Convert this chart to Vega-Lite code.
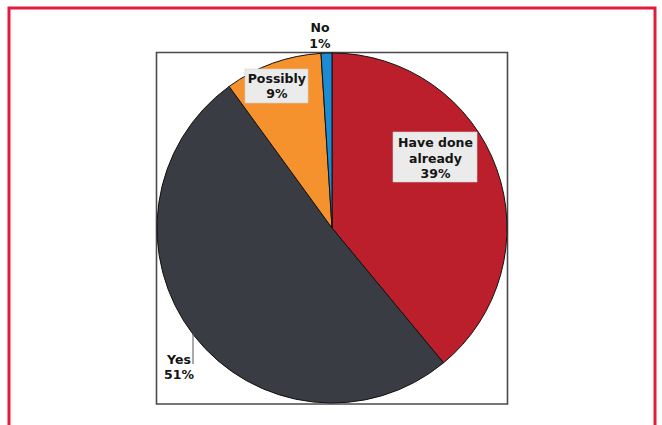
{
  "$schema": "https://vega.github.io/schema/vega-lite/v6.json",
  "width": 646,
  "height": 417,
  "padding": {"left": 9, "top": 8, "right": 7, "bottom": 0},
  "autosize": {"type": "none"},
  "background": "white",
  "config": {
    "view": {"stroke": null},
    "axis": {"disable": true},
    "text": {"font": "DejaVu Sans", "fontWeight": "bold", "fontSize": 12.5, "color": "#141414", "lineHeight": 15.5, "lineBreak": "\n", "baseline": "middle", "align": "center"}
  },
  "data": {
    "values": [
      {"answer": "Have done already", "share": 39, "order": 1, "label": "Have done\nalready\n39%"},
      {"answer": "Yes", "share": 51, "order": 2, "label": "Yes\n51%"},
      {"answer": "Possibly", "share": 9, "order": 3, "label": "Possibly\n9%"},
      {"answer": "No", "share": 1, "order": 4, "label": "No\n1%"}
    ]
  },
  "layer": [
    {
      "data": {"values": [{"part": "frame"}]},
      "mark": {"type": "rect", "fill": "transparent", "stroke": "#E31C3D", "strokeWidth": 3, "clip": false},
      "encoding": {
        "x": {"datum": -323, "type": "quantitative", "scale": {"domain": [-323, 323], "nice": false, "zero": false}, "axis": null},
        "x2": {"datum": 323},
        "y": {"datum": -220, "type": "quantitative", "scale": {"domain": [-220, 197], "nice": false, "zero": false, "reverse": true}, "axis": null},
        "y2": {"datum": 260}
      }
    },
    {
      "data": {"values": [{"part": "box"}]},
      "mark": {"type": "rect", "fill": "white", "stroke": "#4a4a4a", "strokeWidth": 1.6},
      "encoding": {
        "x": {"datum": -175.5, "type": "quantitative"},
        "x2": {"datum": 175.5},
        "y": {"datum": -175.5, "type": "quantitative"},
        "y2": {"datum": 176}
      }
    },
    {
      "mark": {"type": "arc", "radius": 175, "stroke": "#111111", "strokeWidth": 1},
      "encoding": {
        "x": {"datum": 0, "type": "quantitative"},
        "y": {"datum": 0, "type": "quantitative"},
        "theta": {"field": "share", "type": "quantitative", "stack": true},
        "order": {"field": "order", "type": "quantitative"},
        "color": {
          "field": "answer",
          "type": "nominal",
          "scale": {"domain": ["Have done already", "Yes", "Possibly", "No"], "range": ["#BC1F2C", "#393C42", "#F6922D", "#1B8BD4"]},
          "legend": null
        }
      }
    },
    {
      "data": {"values": [{"part": "bg1"}]},
      "mark": {"type": "rect", "fill": "#EBEBEB", "stroke": "#d0d0d0", "strokeWidth": 0.6},
      "encoding": {
        "x": {"datum": 61, "type": "quantitative"},
        "x2": {"datum": 145},
        "y": {"datum": -96, "type": "quantitative"},
        "y2": {"datum": -46}
      }
    },
    {
      "data": {"values": [{"part": "bg2"}]},
      "mark": {"type": "rect", "fill": "#EBEBEB", "stroke": "#d0d0d0", "strokeWidth": 0.6},
      "encoding": {
        "x": {"datum": -87, "type": "quantitative"},
        "x2": {"datum": -24},
        "y": {"datum": -159, "type": "quantitative"},
        "y2": {"datum": -125}
      }
    },
    {
      "data": {"values": [{"part": "leader"}]},
      "mark": {"type": "rule", "stroke": "#555555", "strokeWidth": 1},
      "encoding": {
        "x": {"datum": -139, "type": "quantitative"},
        "y": {"datum": 105, "type": "quantitative"},
        "y2": {"datum": 136}
      }
    },
    {
      "mark": {"type": "text", "radius": 110, "dy": -47.5},
      "encoding": {
        "x": {"datum": 0, "type": "quantitative"},
        "y": {"datum": 0, "type": "quantitative"},
        "theta": {"field": "share", "type": "quantitative", "stack": true},
        "order": {"field": "order", "type": "quantitative"},
        "text": {"condition": {"test": "datum.answer === 'Have done already'", "field": "label"}, "value": ""}
      }
    },
    {
      "mark": {"type": "text", "radius": 200, "dx": 5, "dy": 9},
      "encoding": {
        "x": {"datum": 0, "type": "quantitative"},
        "y": {"datum": 0, "type": "quantitative"},
        "theta": {"field": "share", "type": "quantitative", "stack": true},
        "order": {"field": "order", "type": "quantitative"},
        "text": {"condition": {"test": "datum.answer === 'Yes'", "field": "label"}, "value": ""}
      }
    },
    {
      "mark": {"type": "text", "radius": 151, "dx": -4, "dy": -7},
      "encoding": {
        "x": {"datum": 0, "type": "quantitative"},
        "y": {"datum": 0, "type": "quantitative"},
        "theta": {"field": "share", "type": "quantitative", "stack": true},
        "order": {"field": "order", "type": "quantitative"},
        "text": {"condition": {"test": "datum.answer === 'Possibly'", "field": "label"}, "value": ""}
      }
    },
    {
      "mark": {"type": "text", "radius": 192.6, "dx": -6, "dy": -7},
      "encoding": {
        "x": {"datum": 0, "type": "quantitative"},
        "y": {"datum": 0, "type": "quantitative"},
        "theta": {"field": "share", "type": "quantitative", "stack": true},
        "order": {"field": "order", "type": "quantitative"},
        "text": {"condition": {"test": "datum.answer === 'No'", "field": "label"}, "value": ""}
      }
    }
  ]
}
